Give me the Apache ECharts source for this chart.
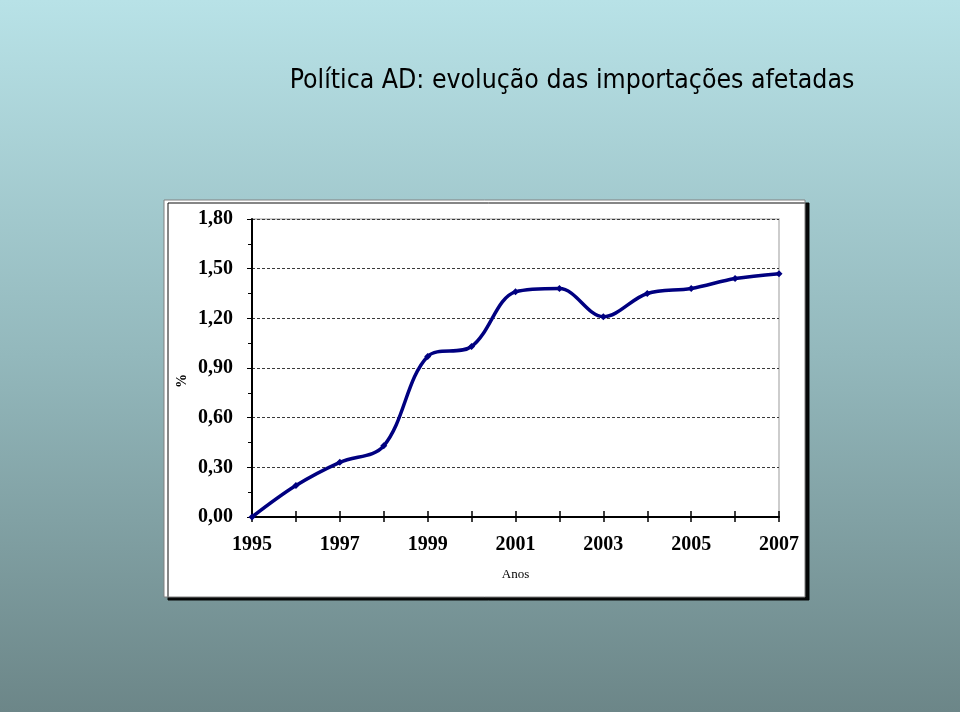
<!DOCTYPE html>
<html>
<head>
<meta charset="utf-8">
<script src="https://cdn.jsdelivr.net/npm/echarts@6/dist/echarts.min.js"></script>
<style>
html,body{margin:0;padding:0;}
#chart{width:960px;height:712px;}
</style>
</head>
<body>
<div id="chart"></div>
<script>
var years = ['1995','1996','1997','1998','1999','2000','2001','2002','2003','2004','2005','2006','2007'];
var values = [0.00, 0.19, 0.33, 0.43, 0.97, 1.03, 1.36, 1.38, 1.21, 1.35, 1.38, 1.44, 1.47];
var yTicks = [0, 0.3, 0.6, 0.9, 1.2, 1.5, 1.8];
var titleText = 'Política AD: evolução das importações afetadas';
var xName = 'Anos';
var yName = '%';

var chart = echarts.init(document.getElementById('chart'), null, {renderer:'canvas'});
var serif = '"Liberation Serif", "Times New Roman", serif';
chart.setOption({
  backgroundColor: {
    type: 'linear', x: 0, y: 0, x2: 0, y2: 1,
    colorStops: [
      {offset: 0, color: '#b8e2e7'},
      {offset: 0.5, color: '#93b8bc'},
      {offset: 1, color: '#6c8688'}
    ]
  },
  animation: false,
  title: {
    text: titleText,
    left: 567, top: 63, textAlign: 'center',
    textStyle: {fontFamily: '"DejaVu Sans Condensed", "DejaVu Sans", sans-serif', fontWeight: 'normal', fontSize: 26.4, color: '#000'}
  },
  graphic: [
    {type: 'rect', z: -100, shape: {x: 164, y: 200, width: 641, height: 397},
     style: {fill: '#fff', stroke: '#808080', lineWidth: 1, shadowColor: 'rgba(0,0,0,0.95)', shadowOffsetX: 4, shadowOffsetY: 3, shadowBlur: 0}},
    {type: 'text', x: 182, y: 381, rotation: Math.PI / 2, z: 10,
     style: {text: yName, font: 'bold 14px ' + serif, fill: '#000', textAlign: 'center', textVerticalAlign: 'middle'}}
  ],
  grid: {left: 252, right: 181, top: 219, bottom: 195, show: true, borderColor: '#bdbdbd', borderWidth: 1.5, backgroundColor: 'transparent'},
  xAxis: [{
    type: 'category', data: years, boundaryGap: false,
    name: xName, nameLocation: 'middle', nameGap: 51,
    nameTextStyle: {fontFamily: serif, fontSize: 13, color: '#000'},
    axisLine: {lineStyle: {color: '#000', width: 2}},
    axisTick: {show: true, interval: 0, length: 5, inside: false, lineStyle: {color: '#000', width: 1.5}},
    axisLabel: {interval: 1, margin: 18, fontFamily: serif, fontWeight: 'bold', fontSize: 20, color: '#000'},
    splitLine: {show: false}
  }, {
    type: 'category', data: years, boundaryGap: false, position: 'bottom',
    axisLine: {show: false},
    axisTick: {show: true, interval: 0, length: 6, inside: true, lineStyle: {color: '#000', width: 1.5}},
    axisLabel: {show: false},
    splitLine: {show: false}
  }],
  yAxis: {
    type: 'value', min: yTicks[0], max: yTicks[yTicks.length - 1], interval: 0.3,
    axisLine: {show: true, lineStyle: {color: '#000', width: 2}},
    axisTick: {show: true, length: 5, lineStyle: {color: '#000'}},
    minorTick: {show: true, splitNumber: 2, length: 4, lineStyle: {color: '#000'}},
    axisLabel: {margin: 19, fontFamily: serif, fontWeight: 'bold', fontSize: 20, color: '#000',
      formatter: function (v) { return v.toFixed(2).replace('.', ','); }},
    splitLine: {show: true, lineStyle: {color: '#3a3a3a', type: [3, 2], width: 1}}
  },
  series: [{
    type: 'line', data: values, smooth: 0.35,
    symbol: 'diamond', symbolSize: 7, showSymbol: true,
    lineStyle: {color: '#000080', width: 3.5},
    itemStyle: {color: '#000080'},
    z: 5
  }]
});
</script>
</body>
</html>
